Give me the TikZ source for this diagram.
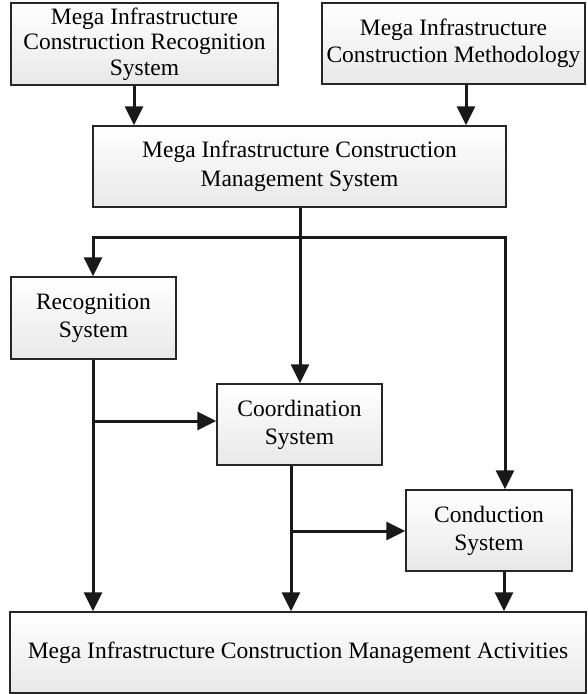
\documentclass[tikz,border=0pt]{standalone}
\usepackage{fontspec}
\setmainfont{Liberation Serif}
\usetikzlibrary{arrows.meta}
\begin{document}
\begin{tikzpicture}[x=1pt,y=-1pt,
  box/.style={draw=black!85, line width=1.4pt, top color=white, bottom color=black!9,
    align=center, inner sep=0pt, font=\fontsize{23.5}{27}\selectfont},
  flow/.style={line width=3pt, black!90, -{Triangle[length=19pt,width=18pt]}},
  wire/.style={line width=3pt, black!90}]
\useasboundingbox (0,0) rectangle (587,694);

% boxes
\node[box, minimum width=267pt, minimum height=82pt, font=\fontsize{23.5}{25.5}\selectfont] (b1) at (144.5,44)
  {Mega Infrastructure\\Construction Recognition\\System};
\node[box, minimum width=263pt, minimum height=81pt] (b2) at (453.5,43.5)
  {Mega Infrastructure\\Construction Methodology};
\node[box, minimum width=413pt, minimum height=81pt, font=\fontsize{23.5}{29}\selectfont] (b3) at (299.5,166.5)
  {Mega Infrastructure Construction\\Management System};
\node[box, minimum width=165pt, minimum height=82pt, font=\fontsize{23.5}{28}\selectfont] (rec) at (93.5,318)
  {Recognition\\System};
\node[box, minimum width=165pt, minimum height=81pt, font=\fontsize{23.5}{28}\selectfont] (coord) at (299.5,424.5)
  {Coordination\\System};
\node[box, minimum width=166pt, minimum height=81pt, font=\fontsize{23.5}{28}\selectfont] (cond) at (489,530.5)
  {Conduction\\System};
\node[box, minimum width=576pt, minimum height=81pt] (act) at (298,652.5)
  {Mega Infrastructure Construction Management Activities};

% routing points
\coordinate (x1) at (134,0);
\coordinate (x2) at (466,0);
\coordinate (xl) at (93,0);
\coordinate (xr) at (505,0);
\coordinate (xc) at (291,0);
\coordinate (xd) at (504,0);
\coordinate (hub) at (300,237);
\coordinate (split1) at (93,421);
\coordinate (split2) at (291,531);

% inputs to the management system
\draw[flow] (b1.south -| x1) -- (b3.north -| x1);
\draw[flow] (b2.south -| x2) -- (b3.north -| x2);

% distribution from the management system
\draw[wire] (b3.south -| hub) -- (hub);
\draw[flow] (hub) -| (rec.north -| xl);
\draw[flow] (hub) -- (coord.north -| hub);
\draw[flow] (hub) -| (cond.north -| xr);

% towards the activities
\draw[flow] (rec.south -| xl) -- (act.north -| xl);
\draw[flow] (split1) -- (coord.west |- split1);
\draw[flow] (coord.south -| xc) -- (act.north -| xc);
\draw[flow] (split2) -- (cond.west |- split2);
\draw[flow] (cond.south -| xd) -- (act.north -| xd);
\end{tikzpicture}
\end{document}
